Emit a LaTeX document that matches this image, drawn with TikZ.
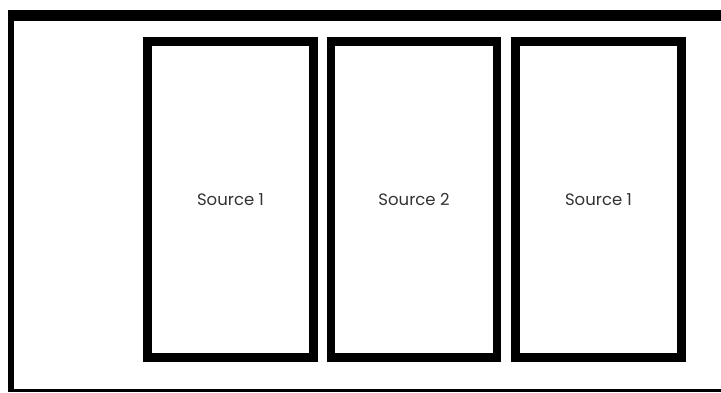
\documentclass[tikz,border=0pt]{standalone}
\usepackage{fontspec}
\setmainfont{Poppins}
\begin{document}
\begin{tikzpicture}[x=1pt,y=-1pt,
  srcbox/.style={draw=black, line width=8.5pt, minimum width=166pt, minimum height=316pt, inner sep=0pt, anchor=center, font=\fontsize{16.5}{18}\selectfont, text=black!80},
  edge/.style={fill=black}]
\useasboundingbox (0,0) rectangle (721,393);
\fill[white] (0,0) rectangle (721,393);
% outer frame (right side cut off)
\fill[edge] (8,10) rectangle (721,21);
\fill[edge] (8,10) rectangle (14,392);
\fill[edge] (8,389) rectangle (721,392);
\node[srcbox] (s1) at (230.5,199.5) {Source 1};
\node[srcbox] (s2) at (414,199.5) {Source 2};
\node[srcbox] (s3) at (598.5,199.5) {Source 1};
\end{tikzpicture}
\end{document}
